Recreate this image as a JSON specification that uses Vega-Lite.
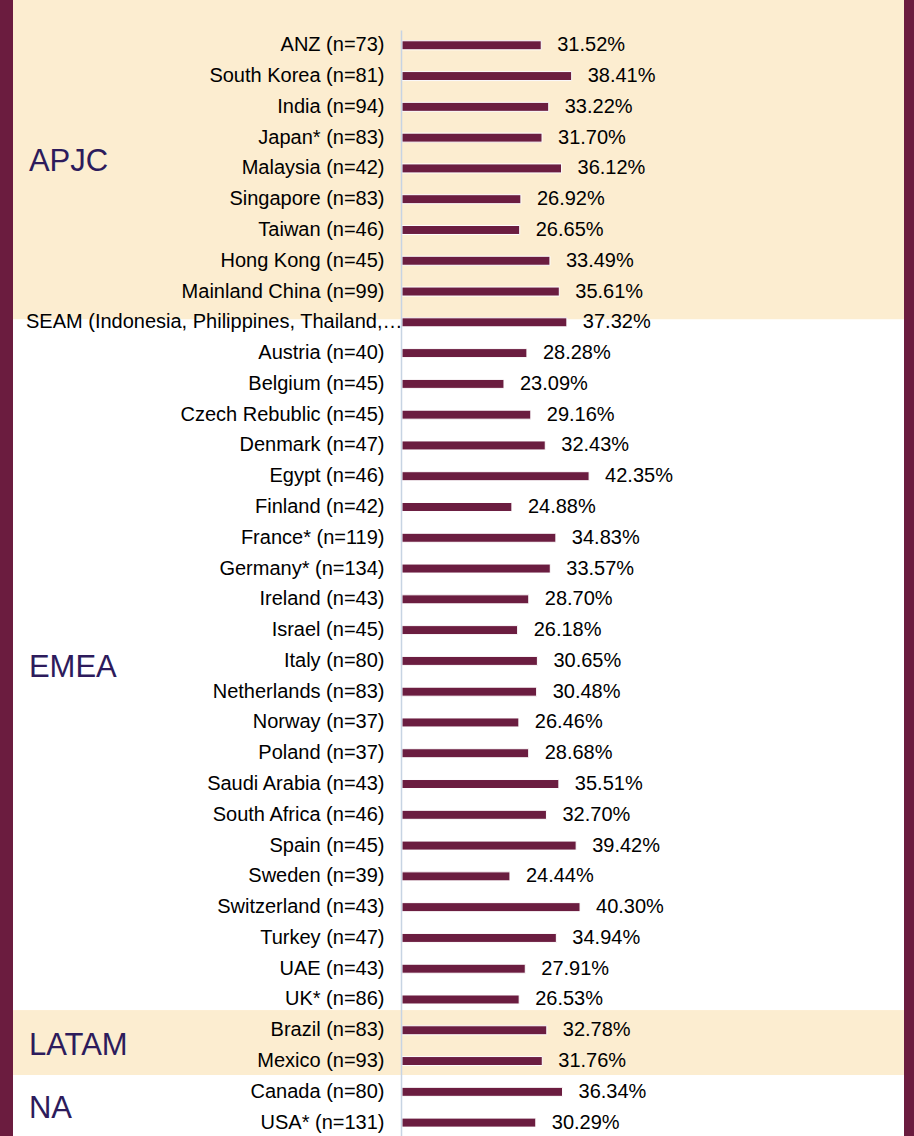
{
  "$schema": "https://vega.github.io/schema/vega-lite/v6.json",
  "width": 891,
  "height": 1136,
  "autosize": {"type": "none"},
  "padding": {"left": 13, "right": 10, "top": 0, "bottom": 0},
  "background": "#6B1C3F",
  "config": {
    "view": {"stroke": null, "fill": "#FCEDD0"},
    "font": "Liberation Sans"
  },
  "datasets": {
    "regions": [
      {"region": "APJC", "from": -1, "to": 9.4},
      {"region": "EMEA", "from": 9.4, "to": 31.85},
      {"region": "LATAM", "from": 31.85, "to": 33.95},
      {"region": "NA", "from": 33.95, "to": 36}
    ],
    "countries": [
      {"country": "ANZ (n=73)", "value": 0.3152},
      {"country": "South Korea (n=81)", "value": 0.3841},
      {"country": "India (n=94)", "value": 0.3322},
      {"country": "Japan* (n=83)", "value": 0.3170},
      {"country": "Malaysia (n=42)", "value": 0.3612},
      {"country": "Singapore (n=83)", "value": 0.2692},
      {"country": "Taiwan (n=46)", "value": 0.2665},
      {"country": "Hong Kong (n=45)", "value": 0.3349},
      {"country": "Mainland China (n=99)", "value": 0.3561},
      {"country": "SEAM (Indonesia, Philippines, Thailand,…", "value": 0.3732},
      {"country": "Austria (n=40)", "value": 0.2828},
      {"country": "Belgium (n=45)", "value": 0.2309},
      {"country": "Czech Rebublic (n=45)", "value": 0.2916},
      {"country": "Denmark (n=47)", "value": 0.3243},
      {"country": "Egypt (n=46)", "value": 0.4235},
      {"country": "Finland (n=42)", "value": 0.2488},
      {"country": "France* (n=119)", "value": 0.3483},
      {"country": "Germany* (n=134)", "value": 0.3357},
      {"country": "Ireland (n=43)", "value": 0.2870},
      {"country": "Israel (n=45)", "value": 0.2618},
      {"country": "Italy (n=80)", "value": 0.3065},
      {"country": "Netherlands (n=83)", "value": 0.3048},
      {"country": "Norway (n=37)", "value": 0.2646},
      {"country": "Poland (n=37)", "value": 0.2868},
      {"country": "Saudi Arabia (n=43)", "value": 0.3551},
      {"country": "South Africa (n=46)", "value": 0.3270},
      {"country": "Spain (n=45)", "value": 0.3942},
      {"country": "Sweden (n=39)", "value": 0.2444},
      {"country": "Switzerland (n=43)", "value": 0.4030},
      {"country": "Turkey (n=47)", "value": 0.3494},
      {"country": "UAE (n=43)", "value": 0.2791},
      {"country": "UK* (n=86)", "value": 0.2653},
      {"country": "Brazil (n=83)", "value": 0.3278},
      {"country": "Mexico (n=93)", "value": 0.3176},
      {"country": "Canada (n=80)", "value": 0.3634},
      {"country": "USA* (n=131)", "value": 0.3029}
    ]
  },
  "encoding": {
    "x": {"type": "quantitative", "scale": {"domain": [-0.88, 1.136], "nice": false, "zero": false}, "axis": null}
  },
  "layer": [
    {
      "data": {"name": "regions"},
      "layer": [
        {
          "mark": {"type": "rect"},
          "encoding": {
            "y": {"field": "from", "type": "quantitative", "scale": {"domain": [0, 36], "range": [29.9, 1138], "nice": false, "zero": false}, "axis": null},
            "y2": {"field": "to"},
            "color": {"field": "region", "type": "nominal", "scale": {"domain": ["APJC", "EMEA", "LATAM", "NA"], "range": ["#FCEDD0", "#FFFFFF", "#FCEDD0", "#FFFFFF"]}, "legend": null}
          }
        },
        {
          "transform": [{"fold": ["from", "to"], "as": ["edge", "pos"]}],
          "mark": {"type": "text", "align": "left", "baseline": "middle", "dy": 3, "fontSize": 31, "color": "#2D1B5C", "font": "Liberation Sans"},
          "encoding": {
            "x": {"datum": -0.844},
            "y": {"aggregate": "mean", "field": "pos", "type": "quantitative", "axis": null},
            "text": {"field": "region", "type": "nominal"}
          }
        }
      ]
    },
    {
      "data": {"name": "countries"},
      "layer": [
        {
          "mark": {"type": "bar", "size": 9, "color": "#6B1D40", "stroke": "#FFFFFF", "strokeWidth": 1},
          "encoding": {
            "y": {
              "field": "country", "type": "nominal", "sort": null,
              "scale": {"range": [29.9, 1138], "paddingInner": 0, "paddingOuter": 0},
              "axis": {
                "title": null, "offset": -388, "ticks": false, "tickSize": 0, "zindex": 1,
                "labelPadding": {"condition": {"test": "indexof(datum.value, 'SEAM') === 0", "value": -1}, "value": 17},
                "labelFont": "Liberation Sans", "labelFontSize": 20, "labelColor": "#000000",
                "labelLimit": 600, "domainColor": "#C7D4E3", "domainWidth": 1.5, "grid": false
              }
            },
            "x": {"field": "value", "type": "quantitative"},
            "x2": {"datum": 0}
          }
        },
        {
          "mark": {"type": "text", "align": "left", "baseline": "middle", "dx": 16, "fontSize": 20, "color": "#000000", "font": "Liberation Sans"},
          "encoding": {
            "y": {"field": "country", "type": "nominal", "sort": null},
            "x": {"field": "value", "type": "quantitative"},
            "text": {"field": "value", "type": "quantitative", "format": ".2%"}
          }
        }
      ]
    }
  ],
  "resolve": {"scale": {"y": "independent"}}
}
